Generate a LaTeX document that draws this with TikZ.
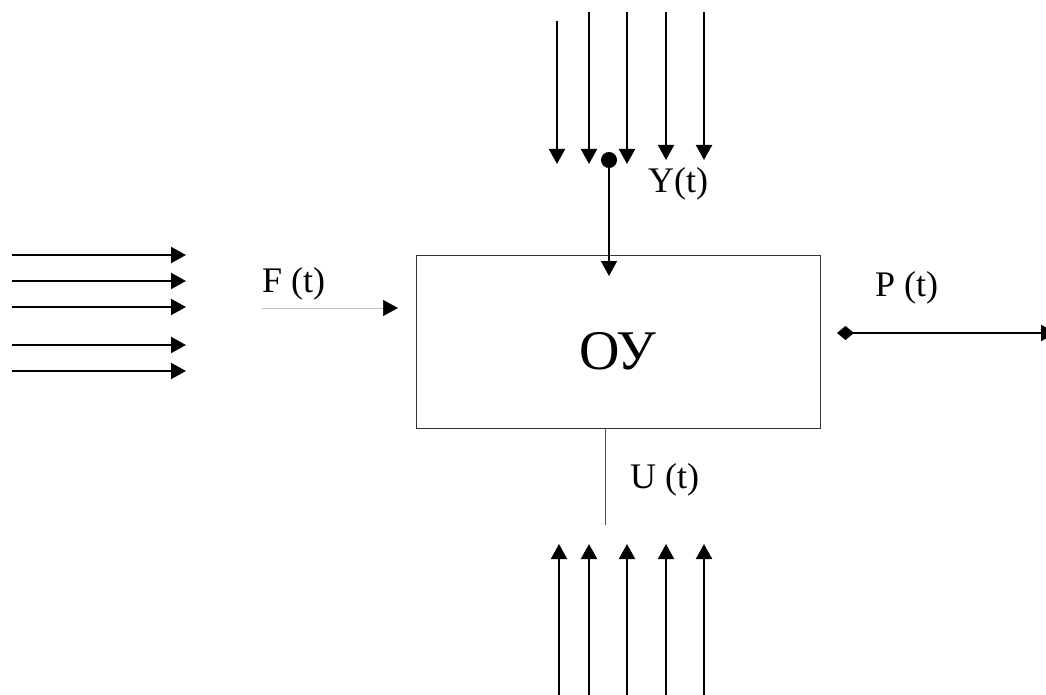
\documentclass[tikz,border=0pt]{standalone}
\usepackage{fontspec}
\setmainfont{Liberation Serif}
\usetikzlibrary{arrows.meta}

\begin{document}
\begin{tikzpicture}[x=1pt,y=-1pt,
  inarrow/.style={line width=2pt,-{Triangle[length=15pt,width=16pt]}},
  sig/.style={anchor=base west,inner sep=0pt,font=\fontsize{36}{40}\selectfont}]
  \useasboundingbox (0,0) rectangle (1046,695);
  % object of control
  \node[draw=black!80,line width=1pt,minimum width=404pt,minimum height=173pt,inner sep=0pt,
        text height=56pt,text depth=0pt,font=\fontsize{56}{62}\selectfont] (ou) at (618,341.5) {ОУ};
  % disturbances F(t)
  \foreach \n/\y in {1/255,2/281,3/307,4/345,5/371} {
    \coordinate (f\n a) at (12,\y);
    \coordinate (f\n b) at (186,\y);
    \draw[inarrow] (f\n a) -- (f\n b);
  }
  \coordinate (fa) at (262,308);
  \coordinate (fb) at (398,308);
  \draw[line width=0.5pt,black!25,-{Triangle[length=15pt,width=16pt,black]}] (fa) -- (fb);
  \node[sig] (flabel) at (262,292) {F (t)};
  % inputs Y(t)
  \foreach \n/\x/\y/\e in {1/557/21/164,2/589/12/164,3/627/12/164,4/666/12/160,5/704/12/160} {
    \coordinate (y\n a) at (\x,\y);
    \coordinate (y\n b) at (\x,\e);
    \draw[inarrow] (y\n a) -- (y\n b);
  }
  \coordinate (ydot) at (609,152);
  \coordinate (yin) at (609,276);
  \draw[line width=1.6pt,{Circle[length=16pt]}-{Triangle[length=15pt,width=16pt]}] (ydot) -- (yin);
  \node[sig] (ylabel) at (648,193) {Y(t)};
  % output P(t)
  \coordinate (pa) at (837,333);
  \coordinate (pb) at (1056,333);
  \draw[line width=2pt,{Diamond[length=17pt,width=14pt]}-{Triangle[length=15pt,width=16pt]}] (pa) -- (pb);
  \node[sig] (plabel) at (875,296) {P (t)};
  % controls U(t)
  \coordinate (ub) at (605,525);
  \draw[black!70,line width=1pt] (ou.south -| ub) -- (ub);
  \foreach \n/\x in {1/559,2/589,3/627,4/666,5/704} {
    \coordinate (u\n a) at (\x,700);
    \coordinate (u\n b) at (\x,544);
    \draw[inarrow] (u\n a) -- (u\n b);
  }
  \node[sig] (ulabel) at (630,488) {U (t)};
\end{tikzpicture}
\end{document}
